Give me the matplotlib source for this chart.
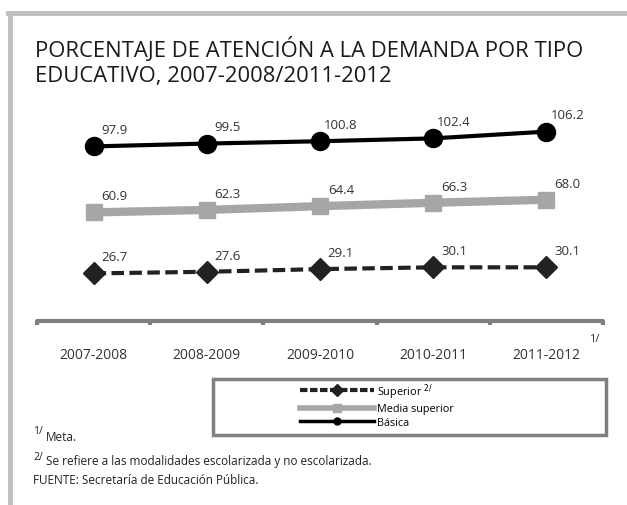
import matplotlib.pyplot as plt
from matplotlib.lines import Line2D
from matplotlib.patches import Rectangle

plt.rcParams['font.family'] = ['Open Sans', 'DejaVu Sans']

ciclos = ['2007-2008', '2008-2009', '2009-2010', '2010-2011', '2011-2012']
basica = [97.9, 99.5, 100.8, 102.4, 106.2]
media_superior = [60.9, 62.3, 64.4, 66.3, 68.0]
superior = [26.7, 27.6, 29.1, 30.1, 30.1]

fig = plt.figure(figsize=(6.27, 5.06), dpi=100)

# gray frame (top and left only)
fig.add_artist(Line2D([8 / 627, 1], [1 - 14 / 506] * 2, color='#c0c0c0', lw=3.5))
fig.add_artist(Line2D([10 / 627] * 2, [0, 1 - 14 / 506], color='#c0c0c0', lw=3.5))

fig.text(35 / 627, 1 - 62 / 506, 'PORCENTAJE DE ATENCIÓN A LA DEMANDA POR TIPO\nEDUCATIVO, 2007-2008/2011-2012',
         fontsize=15.8, color='#1a1a1a', va='center', ha='left', linespacing=1.3)

ax = fig.add_axes([37 / 627, 1 - 322 / 506, 566 / 627, 214 / 506])
x = list(range(len(ciclos)))

ax.plot(x, superior, color='#222222', lw=3, ls=(0, (3, 1.3)), marker='D', ms=11, zorder=3)
ax.plot(x, media_superior, color='#a6a6a6', lw=6, marker='s', ms=11, zorder=3)
ax.plot(x, basica, color='black', lw=3, marker='o', ms=13, zorder=3)

for serie in (basica, media_superior, superior):
    for xi, v in zip(x, serie):
        ax.annotate(f'{v:.1f}', (xi, v), xytext=(15, 12), textcoords='offset points',
                    ha='center', va='center', fontsize=9.5, color='#333333')

ax.set_xlim(-0.5, 4.5)
ax.set_ylim(0, 120)
for s in ['top', 'right', 'left']:
    ax.spines[s].set_visible(False)
ax.spines['bottom'].set_color('#7f7f7f')
ax.spines['bottom'].set_linewidth(3)
ax.spines['bottom'].set_capstyle('round')
ax.set_yticks([])
ax.set_xticks([-0.5, 0.5, 1.5, 2.5, 3.5, 4.5])
ax.set_xticklabels([])
ax.tick_params(axis='x', length=3, width=3, color='#7f7f7f')
for xi, c in zip(x, ciclos):
    ax.text(xi, -19, c, ha='center', va='center', fontsize=10, color='#333333')
ax.text(4.38, -10, '1/', ha='left', va='center', fontsize=8, color='#333333')

# legend box
fig.add_artist(Rectangle((213 / 627, 1 - 436 / 506), 393 / 627, 56 / 506, transform=fig.transFigure,
                         fill=False, edgecolor='#7f7f7f', lw=2.5))
leg_handles = [
    Line2D([], [], color='#222222', lw=3, ls=(0, (1.8, 0.6)), marker='D', ms=6),
    Line2D([], [], color='#a6a6a6', lw=4, marker='s', ms=6),
    Line2D([], [], color='black', lw=2.5, marker='o', ms=5),
]
fig.legend(leg_handles, ['Superior $^{2/}$', 'Media superior', 'Básica'],
           loc='upper left', bbox_to_anchor=(300 / 627, 1 - 382 / 506),
           fontsize=7.8, handlelength=6.8, handletextpad=0.3, labelspacing=0.25,
           borderpad=0, frameon=False, borderaxespad=0)

fig.text(33 / 627, 1 - 432 / 506, '1/', fontsize=7.5, color='#222222', va='center')
fig.text(46 / 627, 1 - 438 / 506, 'Meta.', fontsize=8.5, color='#222222', va='center')
fig.text(33 / 627, 1 - 458 / 506, '2/', fontsize=7.5, color='#222222', va='center')
fig.text(46 / 627, 1 - 462 / 506, 'Se refiere a las modalidades escolarizada y no escolarizada.',
         fontsize=8.5, color='#222222', va='center')
fig.text(33 / 627, 1 - 481 / 506, 'FUENTE: Secretaría de Educación Pública.',
         fontsize=8.5, color='#222222', va='center')

fig.savefig('out.png', dpi=100)
